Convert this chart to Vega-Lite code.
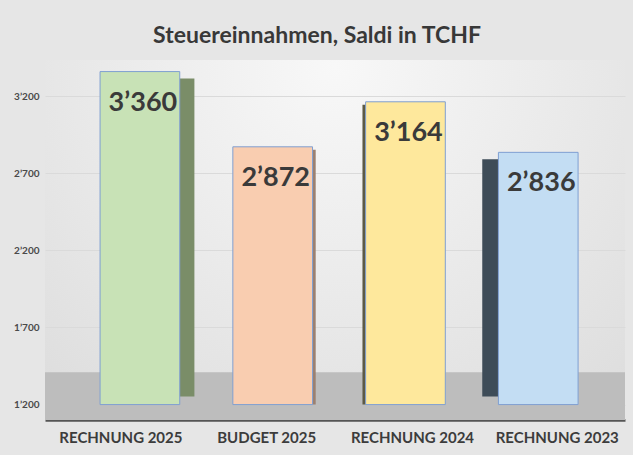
{
  "$schema": "https://vega.github.io/schema/vega-lite/v6.json",
  "width": 580,
  "height": 360,
  "autosize": {"type": "none"},
  "padding": {"left": 45, "top": 60, "right": 8, "bottom": 35},
  "background": "#e6e6e6",
  "title": {
    "text": "Steuereinnahmen, Saldi in TCHF",
    "font": "Lato",
    "fontSize": 23,
    "fontWeight": "bold",
    "color": "#383838",
    "anchor": "middle",
    "dx": -18,
    "offset": 12
  },
  "data": {
    "values": [
      {"kategorie": "RECHNUNG 2025", "wert": 3360},
      {"kategorie": "BUDGET 2025", "wert": 2872},
      {"kategorie": "RECHNUNG 2024", "wert": 3164},
      {"kategorie": "RECHNUNG 2023", "wert": 2836}
    ]
  },
  "datasets": {
    "boden": [{"unten": 1100, "oben": 1410}]
  },
  "encoding": {
    "x": {
      "field": "kategorie",
      "type": "nominal",
      "sort": null,
      "scale": {"paddingInner": 0.4, "paddingOuter": 0.384, "align": 0.54},
      "axis": {
        "title": null,
        "labelAngle": 0,
        "labelFont": "Lato",
        "labelFontSize": 15,
        "labelFontWeight": "bold",
        "labelColor": "#3c3c3c",
        "labelPadding": 10,
        "labelOffset": {
          "condition": [
            {"test": "datum.value === 'RECHNUNG 2025'", "value": -19},
            {"test": "datum.value === 'BUDGET 2025'", "value": -6},
            {"test": "datum.value === 'RECHNUNG 2024'", "value": 7},
            {"test": "datum.value === 'RECHNUNG 2023'", "value": 19}
          ],
          "value": 0
        },
        "ticks": false,
        "domainColor": "#555555",
        "domainWidth": 2.5,
        "grid": false
      }
    }
  },
  "layer": [
    {
      "data": {"name": "boden"},
      "mark": {"type": "rect", "color": "#bdbdbd"},
      "encoding": {
        "x": null,
        "y": {"field": "unten", "type": "quantitative"},
        "y2": {"field": "oben"}
      }
    },
    {
      "transform": [{"filter": "datum.kategorie === 'RECHNUNG 2025'"}],
      "mark": {"type": "bar", "size": 15, "xOffset": 47, "yOffset": 7, "y2Offset": -8, "color": "#7a8d68"},
      "encoding": {
        "y": {"field": "wert", "type": "quantitative"},
        "y2": {"datum": 1200}
      }
    },
    {
      "transform": [{"filter": "datum.kategorie === 'BUDGET 2025'"}],
      "mark": {"type": "bar", "size": 4, "xOffset": 41, "yOffset": 3, "color": "#9c8070"},
      "encoding": {
        "y": {"field": "wert", "type": "quantitative"},
        "y2": {"datum": 1200}
      }
    },
    {
      "transform": [{"filter": "datum.kategorie === 'RECHNUNG 2024'"}],
      "mark": {"type": "bar", "size": 4, "xOffset": -41, "yOffset": 3, "color": "#5d5a45"},
      "encoding": {
        "y": {"field": "wert", "type": "quantitative"},
        "y2": {"datum": 1200}
      }
    },
    {
      "transform": [{"filter": "datum.kategorie === 'RECHNUNG 2023'"}],
      "mark": {"type": "bar", "size": 16, "xOffset": -48, "yOffset": 7, "y2Offset": -8, "color": "#3e4c58"},
      "encoding": {
        "y": {"field": "wert", "type": "quantitative"},
        "y2": {"datum": 1200}
      }
    },
    {
      "mark": {"type": "bar", "stroke": "#7f9fd2", "strokeWidth": 1},
      "encoding": {
        "y": {
          "field": "wert",
          "type": "quantitative",
          "scale": {"domain": [1100, 3435], "nice": false, "zero": false},
          "axis": {
            "title": null,
            "values": [1200, 1700, 2200, 2700, 3200],
            "labelExpr": "replace(format(datum.value, ','), ',', '\u2019')",
            "labelFont": "Lato",
            "labelFontSize": 10,
            "labelFontWeight": "bold",
            "labelColor": "#4a4a4a",
            "labelPadding": 6,
            "ticks": false,
            "domain": false,
            "grid": true,
            "gridColor": "#dadada",
            "gridWidth": 1
          }
        },
        "y2": {"datum": 1200},
        "color": {
          "field": "kategorie",
          "type": "nominal",
          "sort": null,
          "scale": {"range": ["#c8e2b6", "#f9cdb0", "#fee89c", "#c3ddf3"]},
          "legend": null
        }
      }
    },
    {
      "mark": {
        "type": "text",
        "font": "Lato",
        "fontSize": 27,
        "fontWeight": "bold",
        "color": "#3a3a3a",
        "baseline": "middle",
        "dy": 31,
        "dx": 3,
        "text": {"expr": "replace(format(datum.wert, ','), ',', '\u2019')"}
      },
      "encoding": {
        "y": {"field": "wert", "type": "quantitative"}
      }
    }
  ],
  "config": {
    "view": {
      "stroke": null,
      "fill": {
        "gradient": "radial",
        "x1": 0.5, "y1": 0.2, "r1": 0,
        "x2": 0.5, "y2": 0.2, "r2": 0.85,
        "stops": [
          {"offset": 0, "color": "#f8f8f8"},
          {"offset": 1, "color": "#dadada"}
        ]
      }
    }
  }
}
